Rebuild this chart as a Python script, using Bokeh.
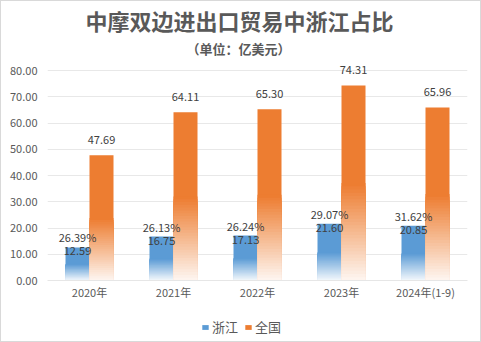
from bokeh.plotting import figure
from bokeh.layouts import column
from bokeh.models import (Range1d, FixedTicker, NumeralTickFormatter, Title,
                          Legend, LegendItem, ColumnDataSource)
from bokeh.core.properties import value
from bokeh.embed import file_html
from bokeh.resources import INLINE

years = ["2020年", "2021年", "2022年", "2023年", "2024年(1-9)"]
zhejiang = [12.59, 16.75, 17.13, 21.60, 20.85]
national = [47.69, 64.11, 65.30, 74.31, 65.96]
share = ["26.39%", "26.13%", "26.24%", "29.07%", "31.62%"]
series = ["浙江", "全国"]
yticks = [0, 10, 20, 30, 40, 50, 60, 70, 80]

BLUE = (91, 155, 213)
ORANGE = (237, 125, 49)
FONT = "Noto Sans CJK SC"
BORDER = "1px solid #D9D9D9"

# frame: y=0 at 279px, y=80 at 70px; frame top at ~58px
ytop = 80 + 12 / (209 / 80)

p = figure(width=481, height=310, output_backend="svg", toolbar_location=None,
           x_range=Range1d(-0.5, len(years) - 0.5), y_range=Range1d(0, ytop),
           min_border_left=46, min_border_right=15, min_border_top=0,
           min_border_bottom=31)
p.styles = {"border-top": BORDER, "border-left": BORDER, "border-right": BORDER}
p.outline_line_color = None
p.background_fill_color = "white"
p.border_fill_color = "white"

# axes
p.yaxis.ticker = FixedTicker(ticks=yticks)
p.yaxis.formatter = NumeralTickFormatter(format="0.00")
p.yaxis.axis_line_color = None
p.yaxis.major_tick_line_color = None
p.yaxis.minor_tick_line_color = None
p.yaxis.major_label_standoff = 4
p.yaxis.major_label_text_font = FONT
p.yaxis.major_label_text_font_size = "11px"
p.yaxis.major_label_text_color = "#595959"

p.xaxis.ticker = FixedTicker(ticks=list(range(len(years))))
p.xaxis.major_label_overrides = {i: y for i, y in enumerate(years)}
p.xaxis.axis_line_color = "#E6E6E6"
p.xaxis.major_tick_line_color = None
p.xaxis.minor_tick_line_color = None
p.xaxis.major_tick_out = 0
p.xaxis.major_label_standoff = 3
p.xaxis.major_label_text_font = FONT
p.xaxis.major_label_text_font_size = "11px"
p.xaxis.major_label_text_color = "#595959"

p.xgrid.grid_line_color = None
p.ygrid.grid_line_color = "#E8E8E8"
p.ygrid.grid_line_width = 1

BW = 24 / 84
OFF = BW / 2


def blend(c, t):
    r = int(round(255 + (c[0] - 255) * t))
    g = int(round(255 + (c[1] - 255) * t))
    b = int(round(255 + (c[2] - 255) * t))
    return "#%02x%02x%02x" % (r, g, b)


def gradient_bars(vals, offset, base):
    left, right, top, colors = [], [], [], []
    N = 30
    for i, v in enumerate(vals):
        left.append(i + offset - BW / 2)
        right.append(i + offset + BW / 2)
        top.append(v)
        colors.append(blend(base, 1.0))
        fade = v * 0.5
        for k in range(N, 0, -1):
            t = k / N
            left.append(i + offset - BW / 2)
            right.append(i + offset + BW / 2)
            top.append(fade * t)
            colors.append(blend(base, 0.05 + 0.95 * t))
    src = ColumnDataSource(dict(left=left, right=right, top=top,
                                bottom=[0] * len(top), color=colors))
    p.quad(left="left", right="right", bottom="bottom", top="top",
           fill_color="color", line_color=None, source=src)


gradient_bars(zhejiang, -OFF, BLUE)
gradient_bars(national, OFF, ORANGE)

xs = list(range(len(years)))
lab = ColumnDataSource(dict(
    xb=[x - OFF for x in xs], xo=[x + OFF for x in xs],
    zj=zhejiang, nat=national,
    zjt=["%.2f" % v for v in zhejiang], natt=["%.2f" % v for v in national],
    share=share))

common = dict(text_font=value(FONT), text_font_size="11px",
              text_color="#404040", text_align="center",
              text_baseline="middle", source=lab)
p.text(x="xo", y="nat", text="natt", y_offset=-15, **common)
p.text(x="xb", y="zj", text="zjt", y_offset=4, **common)
p.text(x="xb", y="zj", text="share", y_offset=-10, **common)

sub = Title(text="（单位：亿美元）", align="left", offset=139,
            text_font=FONT, text_font_size="13px", text_font_style="bold",
            text_color="#595959", standoff=2)
main = Title(text="中摩双边进出口贸易中浙江占比", align="left", offset=38,
             text_font=FONT, text_font_size="22px", text_font_style="bold",
             text_color="#595959", standoff=0)
p.add_layout(sub, "above")
p.add_layout(main, "above")

# legend strip below the chart (frame aligned with the chart's frame)
lf = figure(width=481, height=32, output_backend="svg", toolbar_location=None,
            x_range=Range1d(0, 1), y_range=Range1d(0, 1),
            x_axis_location=None, y_axis_location=None,
            min_border_left=46, min_border_right=15,
            min_border_top=0, min_border_bottom=0)
lf.styles = {"border-bottom": BORDER, "border-left": BORDER,
             "border-right": BORDER}
lf.grid.visible = False
lf.outline_line_color = None
lf.background_fill_color = "white"
lf.border_fill_color = "white"
# zero-height bars: only their legend swatches are seen
hidden = ColumnDataSource(dict(x=[0.5], top=[0]))
r1 = lf.vbar(x="x", top="top", width=0.01, source=hidden,
             fill_color=blend(BLUE, 1), line_color=None)
r2 = lf.vbar(x="x", top="top", width=0.01, source=hidden,
             fill_color=blend(ORANGE, 1), line_color=None)
legend = Legend(items=[LegendItem(label=series[0], renderers=[r1]),
                       LegendItem(label=series[1], renderers=[r2])],
                orientation="horizontal", location=(154, 6),
                glyph_width=8, glyph_height=6, label_standoff=3,
                spacing=6, padding=2, margin=0,
                label_text_font=FONT, label_text_font_size="13px",
                label_text_color="#595959",
                background_fill_alpha=0, border_line_color=None)
lf.add_layout(legend, "center")

layout = column(p, lf, spacing=0)
open("out.html", "w").write(file_html(layout, INLINE))
